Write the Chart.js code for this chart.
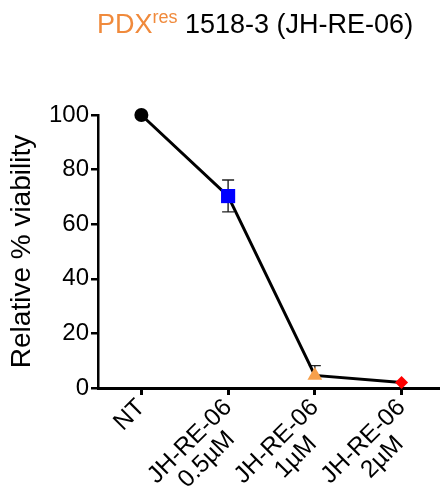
<!DOCTYPE html>
<html><head><meta charset="utf-8">
<script src="https://cdn.jsdelivr.net/npm/chart.js@4"></script>
<style>
html,body{margin:0;padding:0;background:#fff;}
#wrap{position:relative;width:445px;height:489px;}
#title{position:absolute;left:97px;top:11px;font-family:"Liberation Sans",Arial,sans-serif;font-size:27px;line-height:27px;color:#000;white-space:nowrap;}
#title .o{color:#F08A3C;}
#title sup{font-size:18px;vertical-align:10px;line-height:0;}
canvas{position:absolute;left:0;top:0;}
</style></head>
<body>
<div id="wrap">
<canvas id="c" width="445" height="489"></canvas>
<div id="title"><span class="o">PDX<sup>res</sup></span> 1518-3 (JH-RE-06)</div>
</div>
<script>
const categories = [["NT"], ["JH-RE-06", "0.5µM"], ["JH-RE-06", "1µM"], ["JH-RE-06", "2µM"]];
const viability = [100, 70.3, 4.6, 2.0];
const errLow = [0, 5.8, 0, 0];
const errHigh = [0, 5.9, 3.6, 0];
const yTicks = [0, 20, 40, 60, 80, 100];
const pointStyles = ["circle", "rect", "triangle", "rectRot"];
const pointColors = ["#000000", "#0000FF", "#F7A04B", "#FF0000"];
const pointSizes = [7, 10, 8.5, 6.5];

const X_FONT = 24.5;

const errorBars = {
  id: 'errorBars',
  beforeDatasetsDraw(chart) {
    const ctx = chart.ctx, meta = chart.getDatasetMeta(0), y = chart.scales.y;
    ctx.save();
    ctx.strokeStyle = '#222';
    ctx.lineWidth = 1.4;
    meta.data.forEach((pt, i) => {
      const v = viability[i];
      if (!errLow[i] && !errHigh[i]) return;
      const yt = y.getPixelForValue(v + errHigh[i]);
      const yb = y.getPixelForValue(v - errLow[i]);
      ctx.beginPath();
      ctx.moveTo(pt.x, yt); ctx.lineTo(pt.x, yb);
      ctx.moveTo(pt.x - 6, yt); ctx.lineTo(pt.x + 6, yt);
      if (errLow[i]) { ctx.moveTo(pt.x - 6, yb); ctx.lineTo(pt.x + 6, yb); }
      ctx.stroke();
    });
    ctx.restore();
  }
};

// centre the shorter second line under the first one (rotated labels are right-aligned)
function centreLines(lines) {
  if (lines.length < 2) return lines;
  const c = document.createElement('canvas').getContext('2d');
  c.font = X_FONT + 'px "Liberation Sans"';
  const w0 = c.measureText(lines[0]).width;
  const sp = c.measureText(' ').width;
  return lines.map(l => {
    const n = Math.round((w0 - c.measureText(l).width) / 2 / sp);
    return l + ' '.repeat(Math.max(0, n));
  });
}

new Chart(document.getElementById('c'), {
  type: 'line',
  data: {
    datasets: [{
      data: viability.map((v, i) => ({ x: i, y: v })),
      borderColor: '#000',
      borderWidth: 3,
      pointStyle: pointStyles,
      pointBackgroundColor: pointColors,
      pointBorderColor: pointColors,
      pointBorderWidth: 0,
      pointRadius: pointSizes,
      tension: 0,
      clip: false
    }]
  },
  options: {
    responsive: false,
    animation: false,
    layout: { padding: { top: 115, right: 5, left: 0, bottom: 0 } },
    plugins: { legend: { display: false }, tooltip: { enabled: false } },
    scales: {
      x: {
        type: 'linear',
        min: -0.5, max: 3.42,
        afterBuildTicks(s) { s.ticks = categories.map((c, i) => ({ value: i })); },
        border: { color: '#000', width: 3 },
        grid: { drawOnChartArea: false, drawTicks: true, tickLength: 7, color: '#000', lineWidth: 3 },
        ticks: {
          color: '#000',
          font: { family: 'Liberation Sans', size: X_FONT, lineHeight: 1.0 },
          minRotation: 45, maxRotation: 45, padding: 0, autoSkip: false,
          callback(v) { return centreLines(categories[v]); }
        },
        afterFit(s) { s.height = 101; s.paddingLeft = 0; s.paddingRight = 0; }
      },
      y: {
        min: 0, max: 100,
        afterBuildTicks(s) { s.ticks = yTicks.map(v => ({ value: v })); },
        border: { color: '#000', width: 2.5 },
        grid: { drawOnChartArea: false, drawTicks: true, tickLength: 7, color: '#000', lineWidth: 2.5 },
        ticks: { color: '#000', font: { family: 'Liberation Sans', size: 24 }, padding: 2 },
        title: { display: true, text: 'Relative % viability', color: '#000', font: { family: 'Liberation Sans', size: 28 }, padding: { top: 5, bottom: 0 } },
        afterFit(s) { s.width = 98; }
      }
    }
  },
  plugins: [errorBars]
});
</script>
</body></html>
